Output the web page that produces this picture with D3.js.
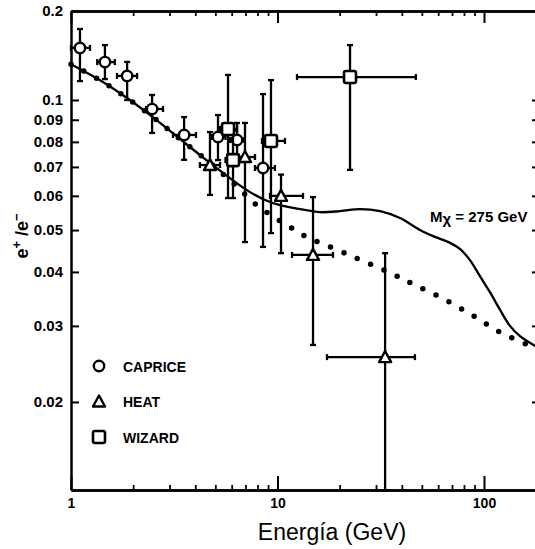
<!DOCTYPE html>
<html>
<head>
<meta charset="utf-8">
<script src="https://cdn.jsdelivr.net/npm/d3@7"></script>
<style>
body { margin: 0; background: #fff; }
svg text { font-family: "Liberation Sans", Arial, sans-serif; fill: #000; }
</style>
</head>
<body>
<svg id="chart" width="535" height="549"></svg>
<script>
// CAPRICE (circles)
var capriceE    = [1.105, 1.46, 1.87, 2.47, 3.53, 5.15, 6.37, 8.51];
var capriceV    = [0.132, 0.1224, 0.1137, 0.0953, 0.0830, 0.0821, 0.0808, 0.0696];
var capriceLo   = [0.1106, 0.1118, 0.100, 0.0839, 0.0727, 0.0726, 0.0726, 0.0457];
var capriceHi   = [0.146, 0.134, 0.1225, 0.1027, 0.0913, 0.0923, 0.0885, 0.1032];
var capriceEmin = [1.0, 1.34, 1.67, 2.31, 3.12, 4.8, 5.9, 7.78];
var capriceEmax = [1.236, 1.63, 2.09, 2.79, 4.03, 5.6, 6.9, 9.72];

// HEAT (triangles)
var heatE    = [4.71, 6.96, 10.4, 14.86, 33.2];
var heatV    = [0.0707, 0.0738, 0.0600, 0.0438, 0.0254];
var heatLo   = [0.0603, 0.0469, 0.0442, 0.0271, 0.0125];
var heatHi   = [0.0843, 0.0885, 0.0672, 0.0596, 0.0442];
var heatEmin = [4.21, 6.37, 9.2, 11.76, 17.36];
var heatEmax = [5.27, 7.78, 13.29, 18.57, 46.3];

// WIZARD (squares)
var wizardE    = [5.76, 6.09, 9.30, 22.45];
var wizardV    = [0.0857, 0.0726, 0.0804, 0.113];
var wizardLo   = [0.0593, 0.0593, 0.0492, 0.0689];
var wizardHi   = [0.1143, 0.085, 0.1112, 0.134];
var wizardEmin = [5.27, 5.6, 8.41, 12.43];
var wizardEmax = [6.37, 6.5, 10.87, 46.8];

// background only (dotted)
var bgE = [1, 1.428, 1.867, 2.49, 3.19, 4.71, 6.23, 8.05, 11.5, 13.29, 21.7, 34.3, 45.3, 62.6, 87.5, 119.5, 163.4, 180.6];
var bgV = [0.121, 0.1101, 0.1011, 0.0913, 0.0830, 0.0715, 0.0636, 0.0568, 0.0508, 0.0487, 0.0440, 0.0400, 0.0375, 0.0348, 0.0318, 0.0290, 0.0271, 0.0264];

// background + neutralino signal (solid)
var sigE = [1, 1.428, 1.867, 2.49, 3.19, 4.71, 6.23, 7.36, 8.70, 10.28, 12.85, 16.06, 20.1, 25.1, 31.4, 39.2, 49.0, 57.9, 68.5, 76.5, 85.5, 95.6, 106.9, 119.5, 133.6, 149.4, 180.6];
var sigV = [0.121, 0.1101, 0.1011, 0.0913, 0.0830, 0.0715, 0.0646, 0.0612, 0.0587, 0.0571, 0.0559, 0.0550, 0.0553, 0.0559, 0.0553, 0.0533, 0.0500, 0.0482, 0.0467, 0.0452, 0.0426, 0.0391, 0.0359, 0.0327, 0.0300, 0.0284, 0.0268];

var xMajor = [1, 10, 100];
var xLabels = ["1", "10", "100"];
var xMinor = [2, 3, 4, 5, 6, 7, 8, 9, 20, 30, 40, 50, 60, 70, 80, 90];
var yTicks = [0.02, 0.03, 0.04, 0.05, 0.06, 0.07, 0.08, 0.09, 0.1];
var yLabels = ["0.02", "0.03", "0.04", "0.05", "0.06", "0.07", "0.08", "0.09", "0.1"];
var yTopLabel = "0.2";

var svg = d3.select("#chart");
var x = d3.scaleLog().domain([1, 180.6]).range([71, 537]);
var y = d3.scaleLog().domain([0.01251, 0.1607]).range([490, 11]);

function styleAxis(g, w) {
    g.attr("font-family", null).attr("font-size", null);
    g.select(".domain").attr("stroke", "#000").attr("stroke-width", 2.5);
    g.selectAll(".tick line").attr("stroke", "#000").attr("stroke-width", w);
    g.selectAll(".tick text").attr("font-size", 14).attr("font-weight", "bold");
}

// bottom axis
svg.append("g").attr("transform", "translate(0,490)")
    .call(d3.axisBottom(x).tickValues(xMinor).tickSize(-5).tickSizeOuter(0).tickFormat(""))
    .call(styleAxis, 1.8);
svg.append("g").attr("transform", "translate(0,490)")
    .call(d3.axisBottom(x).tickValues(xMajor).tickSize(-14).tickSizeOuter(0).tickPadding(8)
        .tickFormat(function(d, i) { return xLabels[i]; }))
    .call(styleAxis, 2);

// top axis
svg.append("g").attr("transform", "translate(0,11)")
    .call(d3.axisTop(x).tickValues(xMinor).tickSize(-5).tickSizeOuter(0).tickFormat(""))
    .call(styleAxis, 1.8);
svg.append("g").attr("transform", "translate(0,11)")
    .call(d3.axisTop(x).tickValues(xMajor).tickSize(-12).tickSizeOuter(0).tickFormat(""))
    .call(styleAxis, 2);

// left axis
svg.append("g").attr("transform", "translate(71,0)")
    .call(d3.axisLeft(y).tickValues(yTicks.concat([y.domain()[1]])).tickSize(-8).tickSizeOuter(0).tickPadding(8)
        .tickFormat(function(d, i) { return i < yLabels.length ? yLabels[i] : yTopLabel; }))
    .call(styleAxis, 2)
    .selectAll(".tick text").attr("font-size", 15);

// right axis
svg.append("g").attr("transform", "translate(537,0)")
    .call(d3.axisRight(y).tickValues(yTicks).tickSize(-5).tickSizeOuter(0).tickFormat(""))
    .call(styleAxis, 2);

// curves
var line = d3.line()
    .x(function(d) { return x(d[0]); })
    .y(function(d) { return y(d[1]); })
    .curve(d3.curveCatmullRom);

svg.append("path")
    .datum(d3.zip(bgE, bgV))
    .attr("d", line)
    .attr("fill", "none")
    .attr("stroke", "#000")
    .attr("stroke-width", 5.5)
    .attr("stroke-linecap", "round")
    .attr("stroke-dasharray", "0,14.5");

svg.append("path")
    .datum(d3.zip(sigE, sigV))
    .attr("d", line)
    .attr("fill", "none")
    .attr("stroke", "#000")
    .attr("stroke-width", 2.3);

// error bars + markers
function drawSeries(E, V, lo, hi, emin, emax, shape) {
    var g = svg.append("g").attr("stroke", "#000").attr("stroke-width", 2.3);
    var cap = 3;
    E.forEach(function(e, i) {
        var cx = x(e), cy = y(V[i]);
        var y0 = y(lo[i]), y1 = y(hi[i]);
        var x0 = x(emin[i]), x1 = x(emax[i]);
        g.append("line").attr("x1", cx).attr("x2", cx).attr("y1", y0).attr("y2", y1);
        g.append("line").attr("x1", cx - cap).attr("x2", cx + cap).attr("y1", y0).attr("y2", y0);
        g.append("line").attr("x1", cx - cap).attr("x2", cx + cap).attr("y1", y1).attr("y2", y1);
        g.append("line").attr("x1", x0).attr("x2", x1).attr("y1", cy).attr("y2", cy);
        g.append("line").attr("x1", x0).attr("x2", x0).attr("y1", cy - cap).attr("y2", cy + cap);
        g.append("line").attr("x1", x1).attr("x2", x1).attr("y1", cy - cap).attr("y2", cy + cap);
    });
    E.forEach(function(e, i) {
        drawMarker(svg, x(e), y(V[i]), shape);
    });
}

function drawMarker(parent, cx, cy, shape) {
    if (shape == "circle") {
        parent.append("circle").attr("cx", cx).attr("cy", cy).attr("r", 5.2)
            .attr("fill", "#fff").attr("stroke", "#000").attr("stroke-width", 2.4);
    } else if (shape == "triangle") {
        parent.append("path")
            .attr("d", "M" + cx + "," + (cy - 6) + "L" + (cx + 6) + "," + (cy + 5) + "L" + (cx - 6) + "," + (cy + 5) + "Z")
            .attr("fill", "#fff").attr("stroke", "#000").attr("stroke-width", 2.4).attr("stroke-linejoin", "round");
    } else {
        parent.append("rect").attr("x", cx - 6).attr("y", cy - 6).attr("width", 12).attr("height", 12).attr("rx", 2)
            .attr("fill", "#fff").attr("stroke", "#000").attr("stroke-width", 2.6);
    }
}

drawSeries(capriceE, capriceV, capriceLo, capriceHi, capriceEmin, capriceEmax, "circle");
drawSeries(heatE, heatV, heatLo, heatHi, heatEmin, heatEmax, "triangle");
drawSeries(wizardE, wizardV, wizardLo, wizardHi, wizardEmin, wizardEmax, "square");

// legend
var legendNames = ["CAPRICE", "HEAT", "WIZARD"];
var legendShapes = ["circle", "triangle", "square"];
legendNames.forEach(function(n, i) {
    var ly = 366 + i * 35.5;
    drawMarker(svg, 99, ly, legendShapes[i]);
    svg.append("text").attr("x", 123).attr("y", ly + 5.5)
        .attr("font-size", 14).attr("font-weight", "bold").text(n);
});

// curve label
var lab = svg.append("text").attr("x", 430).attr("y", 222)
    .attr("font-size", 15).attr("font-weight", "bold");
lab.append("tspan").text("M");
lab.append("tspan").attr("dy", 2).text("\u03c7");
lab.append("tspan").attr("dy", -2).text(" = 275 GeV");

// axis titles
svg.append("text").attr("x", 332).attr("y", 540)
    .attr("text-anchor", "middle").attr("font-size", 23).text("Energía (GeV)");

var yt = svg.append("text").attr("transform", "translate(28,236) rotate(-90)")
    .attr("text-anchor", "middle").attr("font-size", 18).attr("font-weight", "bold");
yt.append("tspan").text("e");
yt.append("tspan").attr("dy", -7).attr("font-size", 13).text("+");
yt.append("tspan").attr("dy", 7).text(" /e");
yt.append("tspan").attr("dy", -7).attr("font-size", 13).text("\u2212");
</script>
</body>
</html>
